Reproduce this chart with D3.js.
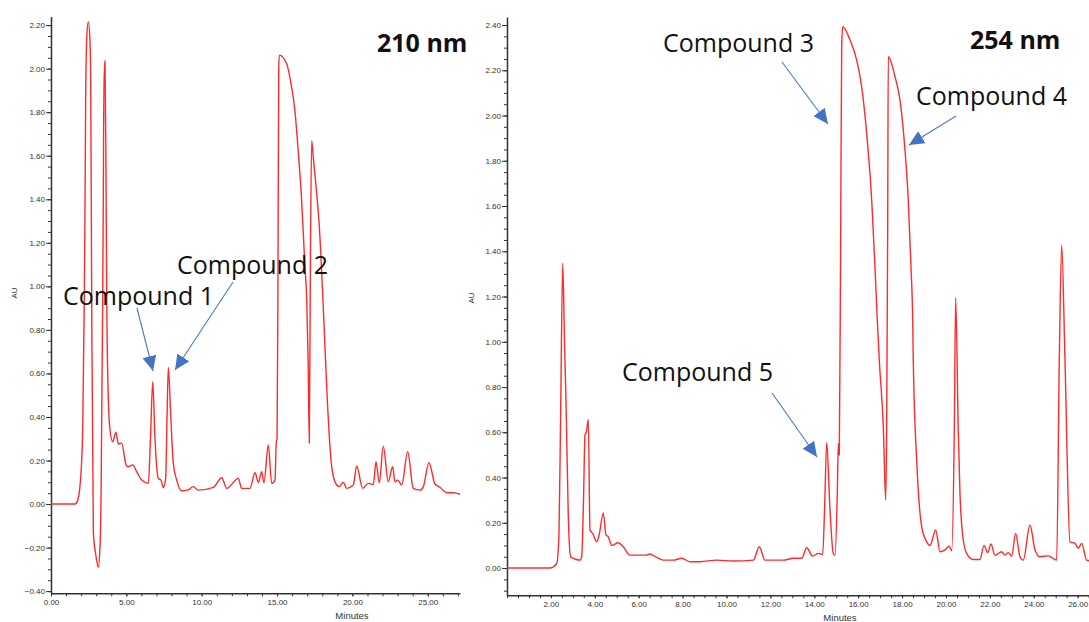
<!DOCTYPE html>
<html>
<head>
<meta charset="utf-8">
<script src="https://cdnjs.cloudflare.com/ajax/libs/d3/7.8.5/d3.min.js"></script>
<style>
  body { margin: 0; background: #fff; }
  svg { display: block; }
  .tick text { font-family: "Liberation Sans", Arial, sans-serif; font-size: 8px; fill: #333; }
  .axis path, .axis line { stroke: #333; }
  .ann { font-family: "Open Sans", sans-serif; font-size: 25px; fill: #111; }
  .wl { font-family: "Open Sans", sans-serif; font-size: 25px; font-weight: bold; fill: #111; }
</style>
</head>
<body>
<div id="chart"></div>
<script>
// 210 nm trace (minutes, AU)
var time210 = [0, 1.59, 1.73, 1.92, 2.10, 2.21, 2.26, 2.30, 2.37, 2.475, 2.59, 2.63, 2.70, 2.81, 2.99, 3.14, 3.25, 3.32, 3.43, 3.47, 3.52, 3.55, 3.583, 3.65, 3.70, 3.80, 3.915,
  4.09, 4.31, 4.47, 4.69, 4.98, 5.11, 5.42, 5.69, 6.02, 6.46, 6.60, 6.75, 6.90, 7.12, 7.30, 7.45, 7.61, 7.70, 7.784, 7.95, 8.115, 8.34, 8.67, 9.10, 9.44, 9.77,
  10.77, 11.33, 11.66, 12.43, 12.65, 13.2, 13.54, 13.76, 13.98, 14.13, 14.42, 14.645, 14.864, 14.95, 15.00, 15.06, 15.11, 15.149, 15.63, 15.96, 16.18, 16.40,
  16.63, 16.85, 16.97, 17.07, 17.14, 17.22, 17.30, 17.42, 17.60, 17.80, 18.07, 18.335, 18.58, 18.845, 19.13, 19.40, 19.62, 20.06, 20.285, 20.68, 21.055, 21.39,
  21.566, 21.785, 22.05, 22.38, 22.67, 22.83, 23.01, 23.27, 23.67, 24.04, 24.49, 24.705, 25.083, 25.48, 25.81, 26.26, 26.70, 27.14];
var au210 = [0, 0, 0.01, 0.08, 0.33, 0.94, 1.40, 1.86, 2.14, 2.215, 2.12, 1.99, 0.94, -0.13, -0.24, -0.29, -0.20, 0.02, 0.94, 1.40, 2.00, 2.00, 2.035, 1.5, 0.94, 0.49, 0.34,
  0.286, 0.33, 0.276, 0.28, 0.18, 0.171, 0.18, 0.148, 0.11, 0.095, 0.30, 0.562, 0.30, 0.118, 0.11, 0.075, 0.12, 0.40, 0.628, 0.40, 0.187, 0.11, 0.061, 0.065, 0.08, 0.064,
  0.077, 0.121, 0.072, 0.118, 0.072, 0.072, 0.144, 0.10, 0.148, 0.098, 0.271, 0.095, 0.11, 0.286, 0.30, 1.00, 2.00, 2.062, 2.024, 1.917, 1.81, 1.626,
  1.396, 1.09, 0.937, 0.63, 0.28, 1.20, 1.669, 1.58, 1.45, 1.28, 0.90, 0.478, 0.202, 0.102, 0.08, 0.10, 0.072, 0.087, 0.175, 0.072, 0.095, 0.09,
  0.194, 0.098, 0.266, 0.102, 0.171, 0.102, 0.11, 0.087, 0.24, 0.072, 0.064, 0.08, 0.19, 0.092, 0.077, 0.052, 0.052, 0.045];

// 254 nm trace (minutes, AU)
var time254 = [0, 1.959, 2.264, 2.369, 2.446, 2.538, 2.620, 2.688, 2.793, 2.902, 3.098, 3.326, 3.403, 3.485, 3.554, 3.613, 3.704, 3.781, 3.904, 4.087, 4.205, 4.387,
  4.510, 4.615, 4.770, 5.071, 5.298, 5.604, 6.364, 6.483, 6.820, 7.121, 7.576, 7.959, 8.337, 8.793, 9.554, 10.310, 11.221, 11.494, 11.754, 12.588, 13.043,
  13.426, 13.654, 13.927, 14.182, 14.383, 14.48, 14.565, 14.715, 14.866, 14.943, 15.048, 15.093, 15.139, 15.203, 15.248, 15.294, 15.626, 15.932, 16.159,
  16.387, 16.615, 16.765, 16.870, 16.961, 17.144, 17.253, 17.298, 17.344, 17.371, 17.677, 17.904, 18.132, 18.282, 18.405, 18.483, 18.510, 18.665, 18.893,
  19.121, 19.271, 19.531, 19.727, 19.954, 20.150, 20.260, 20.378, 20.442, 20.560, 20.638, 20.788, 20.943, 21.244, 21.549, 21.731, 21.900, 22.050, 22.232,
  22.538, 22.688, 22.838, 22.993, 23.175, 23.371, 23.522, 23.827, 24.055, 24.282, 24.661, 25.043, 25.162, 25.271, 25.421, 25.649, 25.877, 26.027, 26.182,
  26.410, 26.65];
var au254 = [0, 0, 0.02, 0.155, 0.70, 1.347, 1.0, 0.74, 0.227, 0.05, 0.04, 0.035, 0.05, 0.3, 0.588, 0.60, 0.657, 0.168, 0.153, 0.116, 0.15, 0.244,
  0.146, 0.138, 0.10, 0.112, 0.094, 0.057, 0.057, 0.062, 0.047, 0.035, 0.035, 0.043, 0.028, 0.028, 0.035, 0.031, 0.035, 0.094, 0.035, 0.035, 0.043,
  0.043, 0.09, 0.053, 0.065, 0.06, 0.3, 0.554, 0.256, 0.065, 0.057, 0.33, 0.55, 0.50, 1.5, 2.3, 2.393, 2.334, 2.245, 2.127,
  1.921, 1.627, 1.332, 1.096, 0.919, 0.625, 0.30, 0.63, 1.5, 2.26, 2.172, 2.068, 1.847, 1.627, 1.332, 1.096, 0.919, 0.477, 0.183,
  0.116, 0.10, 0.168, 0.072, 0.08, 0.097, 0.076, 0.6, 1.195, 0.6, 0.33, 0.124, 0.065, 0.038, 0.038, 0.10, 0.068, 0.106, 0.057,
  0.072, 0.057, 0.068, 0.053, 0.153, 0.05, 0.035, 0.19, 0.08, 0.05, 0.054, 0.035, 0.92, 1.428, 0.92, 0.116, 0.109, 0.087, 0.109,
  0.035, 0.03];

var xMajor210 = [0, 5, 10, 15, 20, 25];
var yMajor210 = [-0.4, -0.2, 0, 0.2, 0.4, 0.6, 0.8, 1.0, 1.2, 1.4, 1.6, 1.8, 2.0, 2.2];
var xMajor254 = [2, 4, 6, 8, 10, 12, 14, 16, 18, 20, 22, 24, 26];
var yMajor254 = [0, 0.2, 0.4, 0.6, 0.8, 1.0, 1.2, 1.4, 1.6, 1.8, 2.0, 2.2, 2.4];

var W = 1089, H = 622;
var fmt = d3.format(".2f");

var svg = d3.select("#chart").append("svg")
  .attr("width", W).attr("height", H);

var defs = svg.append("defs");
defs.append("marker")
  .attr("id", "head")
  .attr("markerUnits", "userSpaceOnUse")
  .attr("markerWidth", 16).attr("markerHeight", 14)
  .attr("refX", 15).attr("refY", 7)
  .attr("orient", "auto")
  .append("path")
  .attr("d", "M0,0 L15,7 L0,14 Z")
  .attr("fill", "#4472c4");

function minorTicks(lo, hi, step) {
  var out = [];
  for (var v = Math.ceil(lo / step - 1e-6) * step; v <= hi + 1e-9; v += step) out.push(+v.toFixed(4));
  return out;
}

function panel(cfg) {
  var x = d3.scaleLinear().domain(cfg.xDomain).range(cfg.xRange);
  var y = d3.scaleLinear().domain(cfg.yDomain).range(cfg.yRange);
  var g = svg.append("g");

  // minor ticks
  g.append("g").attr("class", "axis")
    .attr("transform", "translate(0," + cfg.yRange[0] + ")")
    .call(d3.axisBottom(x).tickValues(minorTicks(cfg.xDomain[0], cfg.xDomain[1], cfg.xMinor))
      .tickSize(3).tickSizeOuter(0).tickFormat(""))
    .select(".domain").remove();
  g.append("g").attr("class", "axis")
    .attr("transform", "translate(" + cfg.xRange[0] + ",0)")
    .call(d3.axisLeft(y).tickValues(minorTicks(cfg.yDomain[0], cfg.yDomain[1], 0.05))
      .tickSize(3).tickSizeOuter(0).tickFormat(""))
    .select(".domain").remove();

  // major ticks
  var xa = g.append("g").attr("class", "axis")
    .attr("transform", "translate(0," + cfg.yRange[0] + ")")
    .call(d3.axisBottom(x).tickValues(cfg.xMajor).tickSize(3).tickSizeOuter(0).tickPadding(3).tickFormat(fmt));
  xa.select(".domain").attr("stroke-width", 1.5);
  var ya = g.append("g").attr("class", "axis")
    .attr("transform", "translate(" + cfg.xRange[0] + ",0)")
    .call(d3.axisLeft(y).tickValues(cfg.yMajor).tickSize(5).tickSizeOuter(0).tickPadding(1).tickFormat(fmt));
  ya.select(".domain").attr("stroke-width", 1.5);

  g.append("text")
    .attr("x", cfg.minutesX).attr("y", cfg.yRange[0] + 26)
    .attr("text-anchor", "middle")
    .style("font-family", "Liberation Sans, Arial, sans-serif")
    .style("font-size", "9.5px").style("fill", "#333")
    .text("Minutes");

  g.append("text")
    .attr("transform", "translate(" + cfg.auX + "," + cfg.auY + ") rotate(-90)")
    .attr("text-anchor", "middle")
    .style("font-family", "Liberation Sans, Arial, sans-serif")
    .style("font-size", "8px").style("fill", "#333")
    .text("AU");

  var line = d3.line()
    .x(function (d) { return x(d[0]); })
    .y(function (d) { return y(d[1]); })
    .curve(d3.curveMonotoneX);

  var pts = d3.zip(cfg.time, cfg.au);
  g.append("path")
    .datum(pts)
    .attr("fill", "none")
    .attr("stroke", "#ff2b2b")
    .attr("stroke-width", 1.4)
    .attr("d", line);

  g.append("text").attr("class", "wl")
    .attr("x", cfg.wl[0]).attr("y", cfg.wl[1])
    .text(cfg.wl[2]);
}

panel({
  time: time210, au: au210,
  xDomain: [0, 27.14], xRange: [51, 460],
  yDomain: [-0.41, 2.24], yRange: [593.3, 16.4],
  xMajor: xMajor210, yMajor: yMajor210, xMinor: 1,
  minutesX: 352, auX: 17, auY: 293,
  wl: [377, 52, "210 nm"]
});

panel({
  time: time254, au: au254,
  xDomain: [0, 27.5], xRange: [507, 1110.6],
  yDomain: [-0.12, 2.435], yRange: [595.2, 17.1],
  xMajor: xMajor254, yMajor: yMajor254, xMinor: 0.5,
  minutesX: 840, auX: 474, auY: 298,
  wl: [970, 49, "254 nm"]
});

// annotations: label text and arrow (tail -> tip) in page pixels
var notes = [
  { text: "Compound 1", tx: 63, ty: 305, x1: 137, y1: 308, x2: 153, y2: 371 },
  { text: "Compound 2", tx: 177, ty: 274, x1: 233, y1: 282, x2: 175, y2: 370 },
  { text: "Compound 3", tx: 663, ty: 52, x1: 782, y1: 62, x2: 828, y2: 124 },
  { text: "Compound 4", tx: 916, ty: 105, x1: 956, y1: 116, x2: 909, y2: 145 },
  { text: "Compound 5", tx: 622, ty: 381, x1: 772, y1: 393, x2: 817, y2: 457 }
];

var ann = svg.append("g");
ann.selectAll("line").data(notes).enter().append("line")
  .attr("x1", function (d) { return d.x1; }).attr("y1", function (d) { return d.y1; })
  .attr("x2", function (d) { return d.x2; }).attr("y2", function (d) { return d.y2; })
  .attr("stroke", "#4a78c8").attr("stroke-width", 1.1)
  .attr("marker-end", "url(#head)");
ann.selectAll("text").data(notes).enter().append("text")
  .attr("class", "ann")
  .attr("x", function (d) { return d.tx; }).attr("y", function (d) { return d.ty; })
  .text(function (d) { return d.text; });
</script>
</body>
</html>
